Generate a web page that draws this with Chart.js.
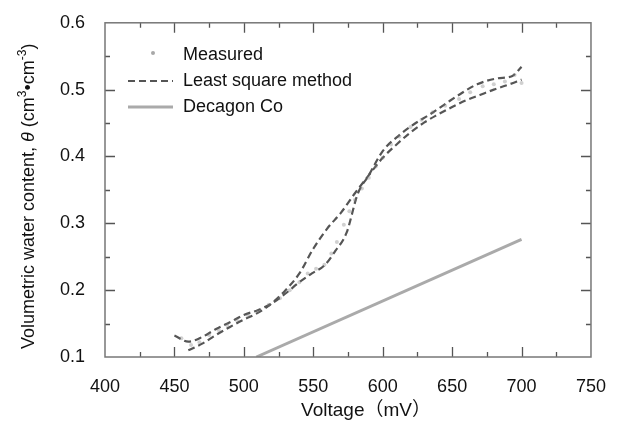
<!DOCTYPE html>
<html>
<head>
<meta charset="utf-8">
<script src="https://cdn.jsdelivr.net/npm/chart.js@4"></script>
<style>
  body { margin: 0; background: #fff; }
  canvas { display: block; }
</style>
</head>
<body>
<canvas id="chart" width="617" height="423"></canvas>
<script>
// measured points (voltage mV, water content)
const measuredV = [455, 462, 468, 475, 482, 488, 495, 503, 510, 518, 526, 533, 540, 546, 552, 558, 563, 567, 572, 576, 580, 585, 590, 595, 600, 606, 612, 620, 628, 636, 645, 655, 663, 672, 680, 688, 695, 700];
const measuredTheta = [0.128, 0.118, 0.122, 0.133, 0.140, 0.148, 0.155, 0.162, 0.168, 0.178, 0.188, 0.200, 0.212, 0.225, 0.232, 0.238, 0.255, 0.272, 0.298, 0.318, 0.335, 0.352, 0.368, 0.385, 0.398, 0.418, 0.430, 0.444, 0.455, 0.466, 0.476, 0.486, 0.496, 0.505, 0.508, 0.512, 0.522, 0.510];

// least square curves
const fitV = [460, 470, 480, 490, 500, 510, 520, 530, 540, 550, 560, 570, 580, 590, 600, 610, 620, 630, 640, 650, 660, 670, 680, 690, 700];
const fitTheta = [0.110, 0.120, 0.133, 0.145, 0.156, 0.166, 0.180, 0.200, 0.225, 0.262, 0.292, 0.316, 0.345, 0.372, 0.398, 0.418, 0.436, 0.451, 0.463, 0.474, 0.484, 0.492, 0.500, 0.507, 0.515];
const fit2V = [450, 460, 470, 480, 490, 500, 510, 520, 530, 540, 549, 558, 566, 574, 582, 590, 600, 612, 623, 634, 646, 657, 668, 683, 693, 700];
const fit2Theta = [0.132, 0.123, 0.130, 0.142, 0.152, 0.163, 0.170, 0.180, 0.195, 0.212, 0.225, 0.237, 0.259, 0.286, 0.344, 0.372, 0.408, 0.432, 0.449, 0.463, 0.480, 0.495, 0.508, 0.517, 0.520, 0.534];

// Decagon Co calibration
const decagonV = [509, 700];
const decagonTheta = [0.100, 0.276];

const xMin = 400, xMax = 750, xStep = 50;
const yMin = 0.1, yMax = 0.6, yStep = 0.1;

const FONT = '"Liberation Sans", Arial, "Noto Sans CJK JP", sans-serif';

function pts(xs, ys) {
    return xs.map((x, i) => ({ x: x, y: ys[i] }));
}

// frame with inward ticks on all four sides
const frameTicks = {
    id: 'frameTicks',
    afterDraw(chart) {
        let ctx = chart.ctx;
        let a = chart.chartArea;
        let xs = chart.scales.x, ys = chart.scales.y;
        ctx.save();
        ctx.strokeStyle = '#555';
        ctx.lineWidth = 1.3;
        for (let v = xMin + 25; v < xMax; v += 25) {
            let px = Math.round(xs.getPixelForValue(v)) + 0.5;
            let len = v % 50 === 0 ? 10 : 5;
            ctx.beginPath();
            ctx.moveTo(px, a.bottom); ctx.lineTo(px, a.bottom - len);
            ctx.moveTo(px, a.top); ctx.lineTo(px, a.top + len);
            ctx.stroke();
        }
        for (let k = 1; k < 10; k++) {
            let v = yMin + k * 0.05;
            let py = Math.round(ys.getPixelForValue(v)) + 0.5;
            let len = k % 2 === 0 ? 10 : 5;
            ctx.beginPath();
            ctx.moveTo(a.left, py); ctx.lineTo(a.left + len, py);
            ctx.moveTo(a.right, py); ctx.lineTo(a.right - len, py);
            ctx.stroke();
        }
        ctx.strokeStyle = '#777';
        ctx.lineWidth = 1.5;
        ctx.strokeRect(a.left, a.top, a.right - a.left, a.bottom - a.top);
        ctx.restore();
    }
};

// legend in the upper-left of the plot, and the axis titles
const labelsPlugin = {
    id: 'labelsPlugin',
    afterDraw(chart) {
        let ctx = chart.ctx;
        ctx.save();
        ctx.fillStyle = '#111';
        ctx.font = '18px ' + FONT;
        ctx.textBaseline = 'middle';
        ctx.textAlign = 'left';

        let items = chart.data.datasets.filter(d => d.legendKind);
        items.forEach((d, i) => {
            let y = 55 + i * 26;
            ctx.save();
            if (d.legendKind === 'point') {
                ctx.fillStyle = 'rgba(110,110,110,0.6)';
                ctx.beginPath();
                ctx.arc(153, y - 2, 2, 0, Math.PI * 2);
                ctx.fill();
            } else {
                ctx.strokeStyle = d.borderColor;
                ctx.lineWidth = d.borderWidth;
                ctx.setLineDash(d.borderDash || []);
                ctx.beginPath();
                ctx.moveTo(128, y); ctx.lineTo(173, y);
                ctx.stroke();
            }
            ctx.restore();
            ctx.fillText(d.label, 183, y);
        });

        // x title
        ctx.textAlign = 'center';
        ctx.font = '19px ' + FONT;
        ctx.fillText('Voltage（mV）', 366, 411);

        // y title, rotated, with italic theta and superscripts
        ctx.translate(29, 349);
        ctx.rotate(-Math.PI / 2);
        ctx.textAlign = 'left';
        ctx.textBaseline = 'middle';
        let parts = [
            ['Volumetric water content, ', '18px', 0],
            ['θ', 'italic 18px', 0],
            [' (cm', '18px', 0],
            ['3', '12px', -6],
            ['•cm', '18px', 0],
            ['-3', '12px', -6],
            [')', '18px', 0]
        ];
        let x = 0;
        parts.forEach(p => {
            ctx.font = p[1] + ' ' + FONT;
            ctx.fillText(p[0], x, p[2]);
            x += ctx.measureText(p[0]).width;
        });
        ctx.restore();
    }
};

new Chart(document.getElementById('chart'), {
    type: 'scatter',
    data: {
        datasets: [
            {
                label: 'Measured',
                legendKind: 'point',
                data: pts(measuredV, measuredTheta),
                showLine: false,
                pointRadius: 2,
                pointBackgroundColor: 'rgba(120,120,120,0.35)',
                pointBorderWidth: 0
            },
            {
                label: 'Least square method',
                legendKind: 'line',
                data: pts(fitV, fitTheta),
                showLine: true,
                borderColor: '#555',
                borderWidth: 2.2,
                borderDash: [7, 4],
                pointRadius: 0,
                tension: 0.4,
                cubicInterpolationMode: 'monotone'
            },
            {
                label: 'Least square method (2)',
                data: pts(fit2V, fit2Theta),
                showLine: true,
                borderColor: '#555',
                borderWidth: 2.2,
                borderDash: [7, 4],
                pointRadius: 0,
                tension: 0.4,
                cubicInterpolationMode: 'monotone'
            },
            {
                label: 'Decagon Co',
                legendKind: 'line',
                data: pts(decagonV, decagonTheta),
                showLine: true,
                borderColor: '#aaa',
                borderWidth: 3,
                pointRadius: 0
            }
        ]
    },
    options: {
        responsive: false,
        devicePixelRatio: 1,
        animation: false,
        layout: { padding: { left: 0, top: 15, right: 22, bottom: 0 } },
        plugins: {
            legend: { display: false },
            tooltip: { enabled: false }
        },
        scales: {
            x: {
                type: 'linear',
                min: xMin,
                max: xMax,
                grid: { display: false },
                border: { display: false },
                afterFit: scale => { scale.height = 66; },
                ticks: {
                    stepSize: xStep,
                    padding: 11,
                    color: '#111',
                    font: { family: FONT, size: 18 },
                    maxRotation: 0
                }
            },
            y: {
                type: 'linear',
                min: yMin,
                max: yMax,
                grid: { display: false },
                border: { display: false },
                afterFit: scale => { scale.width = 105; },
                ticks: {
                    stepSize: yStep,
                    padding: 12,
                    color: '#111',
                    font: { family: FONT, size: 18 },
                    callback: v => v.toFixed(1)
                }
            }
        }
    },
    plugins: [frameTicks, labelsPlugin]
});
</script>
</body>
</html>
